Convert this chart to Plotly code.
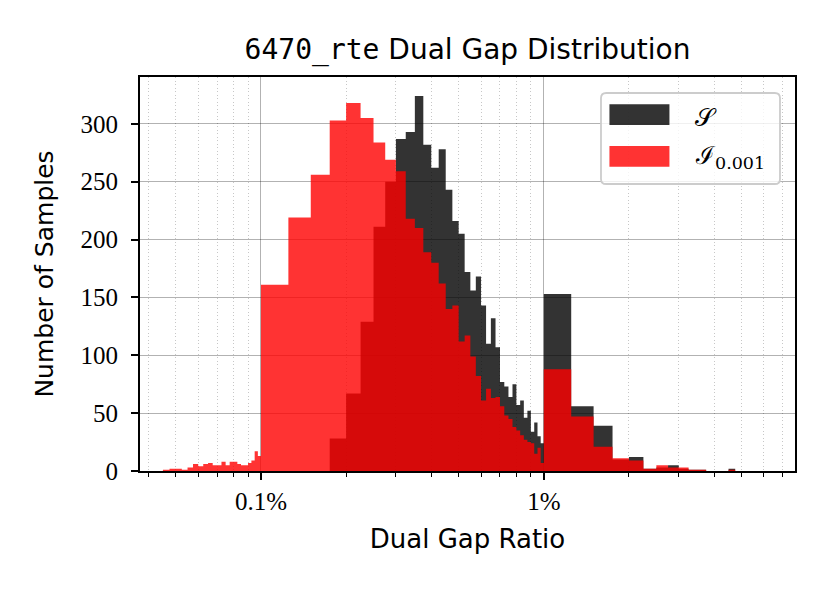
import numpy as np
import plotly.graph_objects as go

# histogram bins: linear steps inside each decade (0.0025% / 0.025% / 0.25%)
low_edges = np.round(0.00045 + 0.000025 * np.arange(22), 8)
mid_edges = np.round(0.001 + 0.00025 * np.arange(36), 7)
high_edges = np.round(0.01 + 0.0025 * np.arange(16), 6)
bin_edges = list(low_edges) + list(mid_edges) + list(high_edges)

# S (black)
s_low = [0] * 22
s_mid = [0, 0, 0, 28, 67, 129, 211, 250, 287, 293, 324, 282, 262, 278, 243, 216,
         205, 172, 156, 168, 143, 110, 132, 107, 77, 73, 64, 75, 57, 61, 46, 52,
         34, 42, 30, 24]
s_high = [153, 56, 39, 10, 12, 2, 3, 5, 2, 1, 1, 0, 0, 0, 2]

# I_0.001 (red)
i_low = [1, 2, 2, 1, 3, 6, 4, 6, 7, 5, 5, 8, 5, 8, 8, 6, 5, 5, 7, 9, 17, 13]
i_mid = [161, 219, 256, 303, 318, 305, 284, 269, 259, 218, 210, 189, 180, 162,
         140, 143, 112, 117, 99, 82, 61, 71, 63, 64, 56, 48, 45, 38, 35, 31,
         27, 25, 24, 15, 20, 7]
i_high = [88, 47, 21, 11, 9, 2, 5, 3, 3, 1, 1, 0, 0, 0, 1]

s_counts = s_low + s_mid + s_high
i_counts = i_low + i_mid + i_high

series_names = ["𝒮", "ℐ<sub>0.001</sub>"]

major_ticks = [0.001, 0.01]
major_labels = ["0.1%", "1%"]
minor_ticks = [0.0004, 0.0005, 0.0006, 0.0007, 0.0008, 0.0009,
               0.002, 0.003, 0.004, 0.005, 0.006, 0.007, 0.008, 0.009,
               0.02, 0.03, 0.04, 0.05, 0.06, 0.07]
y_ticks = [0, 50, 100, 150, 200, 250, 300]

S_COLOR = "rgba(0,0,0,0.8)"
I_COLOR = "rgba(255,0,0,0.8)"
TICK_FONT = dict(family="Liberation Serif", size=25)


def step_xy(edges, counts):
    # closed outline of a histogram, drawn with hv steps
    xs = [edges[0]] + list(edges)
    ys = [0] + list(counts) + [0]
    return xs, ys


fig = go.Figure()

for counts, color, name in [(s_counts, S_COLOR, series_names[0]),
                            (i_counts, I_COLOR, series_names[1])]:
    xs, ys = step_xy(bin_edges, counts)
    fig.add_trace(go.Scatter(
        x=xs, y=ys,
        name=name,
        mode="lines",
        line=dict(width=0, shape="hv"),
        fill="tozeroy",
        fillcolor=color,
        showlegend=False,
        hoverinfo="skip",
    ))

# legend drawn by hand so the swatches look like matplotlib's
bx0, bx1, by0, by1 = 0.7038, 0.9771, 0.7284, 0.9594
rx, ry = 0.008, 0.013
legend_box = (
    f"M{bx0 + rx},{by1} L{bx1 - rx},{by1} Q{bx1},{by1} {bx1},{by1 - ry} "
    f"L{bx1},{by0 + ry} Q{bx1},{by0} {bx1 - rx},{by0} "
    f"L{bx0 + rx},{by0} Q{bx0},{by0} {bx0},{by0 + ry} "
    f"L{bx0},{by1 - ry} Q{bx0},{by1} {bx0 + rx},{by1} Z"
)
shapes = [dict(type="path", path=legend_box, xref="paper", yref="paper",
               fillcolor="rgba(255,255,255,0.8)",
               line=dict(color="#cccccc", width=1.8), layer="above")]
annotations = []
for (sy0, sy1, ty), color, name in zip(
        [(0.8782, 0.9307, 0.898), (0.7723, 0.8249, 0.796)],
        [S_COLOR, I_COLOR], series_names):
    shapes.append(dict(type="rect", xref="paper", yref="paper",
                       x0=0.7167, x1=0.8083, y0=sy0, y1=sy1,
                       fillcolor=color, line=dict(width=0), layer="above"))
    annotations.append(dict(text=name, xref="paper", yref="paper",
                            x=0.845, y=ty, xanchor="left", yanchor="middle",
                            showarrow=False,
                            font=dict(family="DejaVu Serif", size=25)))

W, H = 822, 585
fig.update_layout(
    width=W, height=H,
    margin=dict(l=132, r=35, t=69, b=122),
    paper_bgcolor="white",
    plot_bgcolor="white",
    font=dict(family="DejaVu Sans", size=25, color="black"),
    title=dict(
        text="<span style='font-family:DejaVu Sans Mono'>6470_rte</span> Dual Gap Distribution",
        x=0.5, xanchor="center", xref="paper",
        y=1 - 41 / H, yanchor="middle",
        font=dict(size=28),
    ),
    showlegend=False,
    shapes=shapes,
    annotations=annotations,
)

fig.update_xaxes(
    type="log",
    range=[np.log10(0.0003735), np.log10(0.0773)],
    tickvals=major_ticks, ticktext=major_labels,
    ticks="outside", ticklen=7, tickwidth=1.5, tickcolor="black",
    tickfont=TICK_FONT,
    showgrid=True, gridcolor="rgba(0,0,0,0.3)", gridwidth=1.2,
    minor=dict(tickvals=minor_ticks, ticks="outside", ticklen=4, tickwidth=1.2,
               tickcolor="black", showgrid=True,
               gridcolor="rgba(0,0,0,0.22)", griddash="1px,2.5px", gridwidth=1),
    showline=True, linecolor="black", linewidth=1.8, mirror=True,
    zeroline=False,
    title=dict(text="Dual Gap Ratio", standoff=16, font=dict(size=26)),
)

fig.update_yaxes(
    range=[0, 340.5],
    tickvals=y_ticks,
    ticks="outside", ticklen=7, tickwidth=1.5, tickcolor="black",
    tickfont=TICK_FONT, ticklabelstandoff=8,
    showgrid=True, gridcolor="rgba(0,0,0,0.3)", gridwidth=1.2,
    showline=True, linecolor="black", linewidth=1.8, mirror=True,
    zeroline=False,
    title=dict(text="Number of Samples", standoff=20, font=dict(size=25)),
)

fig.write_html("out.html")
